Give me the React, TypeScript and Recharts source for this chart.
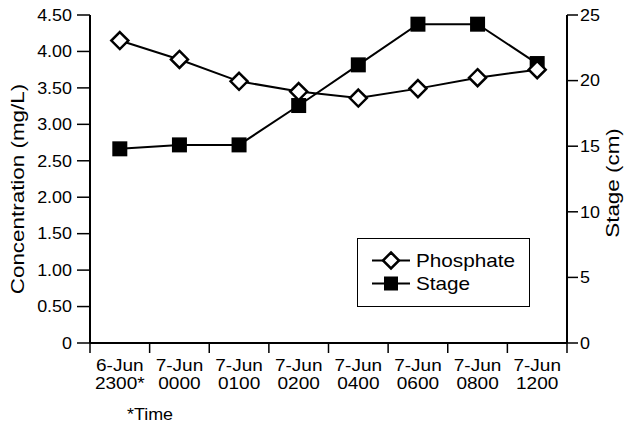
import React from 'react';
import { ComposedChart, Line, XAxis, YAxis, Legend } from 'recharts';

const FONT = '"Liberation Sans", Arial, Helvetica, sans-serif';
const SX = 1.12; // horizontal widening of the lettering

const dateLabels = ['6-Jun', '7-Jun', '7-Jun', '7-Jun', '7-Jun', '7-Jun', '7-Jun', '7-Jun'];
const timeLabels = ['2300*', '0000', '0100', '0200', '0400', '0600', '0800', '1200'];
const phosphate = [4.15, 3.89, 3.59, 3.45, 3.36, 3.49, 3.64, 3.75];
const stage = [14.8, 15.1, 15.1, 18.1, 21.2, 24.3, 24.3, 21.3];
const concTicks = [0, 0.5, 1, 1.5, 2, 2.5, 3, 3.5, 4, 4.5];
const stageTicks = [0, 5, 10, 15, 20, 25];

const data = dateLabels.map((d, i) => ({
  pos: i + 0.5,
  date: d,
  time: timeLabels[i],
  phosphate: phosphate[i],
  stage: stage[i],
}));

const xTicks = Array.from({ length: dateLabels.length * 2 + 1 }, (_, k) => k / 2);

const SText = ({ x, y, anchor = 'start', size = 16, dy = 0, children }: any) => (
  <text
    transform={`translate(${x},${y}) scale(${SX},1)`}
    x={0}
    y={0}
    dy={dy}
    textAnchor={anchor}
    fontSize={size}
    fontFamily={FONT}
    fill="#000"
  >
    {children}
  </text>
);

const XTick = (props: any) => {
  const { x, y, payload } = props;
  const v = payload.value;
  if (Number.isInteger(v)) {
    return <line x1={x} x2={x} y1={y} y2={y + 10} stroke="#000" strokeWidth={1.5} />;
  }
  const i = Math.floor(v);
  return (
    <g>
      <SText x={x} y={y + 28} anchor="middle" size={17}>{dateLabels[i]}</SText>
      <SText x={x} y={y + 46} anchor="middle" size={17}>{timeLabels[i]}</SText>
    </g>
  );
};

const LeftTick = (props: any) => {
  const { x, y, payload } = props;
  const v = payload.value;
  return (
    <SText x={x} y={y} anchor="end" size={16} dy="0.36em">
      {v === 0 ? '0' : Number(v).toFixed(2)}
    </SText>
  );
};

const RightTick = (props: any) => {
  const { x, y, payload } = props;
  return (
    <SText x={x} y={y} anchor="start" size={16} dy="0.36em">
      {String(payload.value)}
    </SText>
  );
};

const VTitle = ({ cx, cy, text }: any) => (
  <text
    transform={`translate(${cx},${cy}) rotate(-90) scale(1.18,1)`}
    x={0}
    y={0}
    textAnchor="middle"
    fontSize={19}
    fontFamily={FONT}
    fill="#000"
  >
    {text}
  </text>
);

const ConcTitle = (props: any) => {
  const vb = props.viewBox || {};
  return <VTitle cx={vb.x + 24} cy={vb.y + vb.height / 2 + 10} text="Concentration (mg/L)" />;
};

const StageTitle = (props: any) => {
  const vb = props.viewBox || {};
  return <VTitle cx={vb.x + vb.width - 10} cy={vb.y + vb.height / 2 + 4} text="Stage (cm)" />;
};

const TimeLabel = (props: any) => {
  const vb = props.viewBox || {};
  return <SText x={vb.x + 37} y={vb.y + 77} size={16}>*Time</SText>;
};

const Diamond = (props: any) => {
  const { cx, cy } = props;
  if (cx == null || cy == null) return <g />;
  const r = 8.5;
  return (
    <polygon
      points={`${cx},${cy - r} ${cx + r},${cy} ${cx},${cy + r} ${cx - r},${cy}`}
      fill="#fff"
      stroke="#000"
      strokeWidth={2.5}
    />
  );
};

const Square = (props: any) => {
  const { cx, cy } = props;
  if (cx == null || cy == null) return <g />;
  return <rect x={cx - 7.5} y={cy - 7.5} width={15} height={15} fill="#000" />;
};

const LegendIcon = ({ kind }: { kind: string }) => (
  <svg width={38} height={23} style={{ display: 'block', marginRight: 6, flex: 'none' }}>
    <line x1={0} x2={38} y1={11.5} y2={11.5} stroke="#000" strokeWidth={2} />
    {kind === 'phosphate' ? (
      <polygon points="19,3.5 27,11.5 19,19.5 11,11.5" fill="#fff" stroke="#000" strokeWidth={2.5} />
    ) : (
      <rect x={12} y={4.5} width={14} height={14} fill="#000" />
    )}
  </svg>
);

const renderLegend = (props: any) => {
  const order = ['phosphate', 'stage'];
  const items = [...(props.payload || [])].sort(
    (a: any, b: any) => order.indexOf(a.dataKey) - order.indexOf(b.dataKey)
  );
  return (
    <div
      style={{
        boxSizing: 'border-box',
        width: 173,
        height: 69,
        border: '1px solid #000',
        background: '#fff',
        paddingTop: 10,
        paddingLeft: 14,
        fontFamily: FONT,
        fontSize: 18.5,
        color: '#000',
      }}
    >
      {items.map((it: any) => (
        <div key={it.dataKey} style={{ display: 'flex', alignItems: 'center', height: 23 }}>
          <LegendIcon kind={it.dataKey} />
          <span style={{ display: 'inline-block', transform: `scaleX(${SX})`, transformOrigin: 'left center', whiteSpace: 'nowrap' }}>
            {it.value}
          </span>
        </div>
      ))}
    </div>
  );
};

export default function App() {
  return (
    <div style={{ position: 'absolute', left: 0, top: 0 }}>
      <ComposedChart width={629} height={427} data={data} margin={{ top: 15, right: 0, bottom: 0, left: 0 }}>
        <XAxis
          dataKey="pos"
          type="number"
          domain={[0, dateLabels.length]}
          ticks={xTicks}
          interval={0}
          height={84}
          tickSize={0}
          tickMargin={0}
          tickLine={false}
          axisLine={{ stroke: '#000', strokeWidth: 2 }}
          tick={<XTick />}
          label={<TimeLabel />}
        />
        <YAxis
          yAxisId="conc"
          domain={[0, 4.5]}
          ticks={concTicks}
          interval={0}
          width={90}
          tickSize={13}
          tickMargin={5}
          axisLine={{ stroke: '#000', strokeWidth: 2 }}
          tickLine={{ stroke: '#000', strokeWidth: 1.5 }}
          tick={<LeftTick />}
          label={<ConcTitle />}
        />
        <YAxis
          yAxisId="stage"
          orientation="right"
          domain={[0, 25]}
          ticks={stageTicks}
          interval={0}
          width={62}
          tickSize={11}
          tickMargin={2}
          axisLine={{ stroke: '#000', strokeWidth: 2 }}
          tickLine={{ stroke: '#000', strokeWidth: 1.5 }}
          tick={<RightTick />}
          label={<StageTitle />}
        />
        <Legend
          layout="horizontal"
          verticalAlign="middle"
          align="center"
          content={renderLegend}
          wrapperStyle={{ position: 'absolute', left: 357, top: 238, width: 173, height: 69 }}
        />
        <Line
          yAxisId="stage"
          dataKey="stage"
          name="Stage"
          type="linear"
          stroke="#000"
          strokeWidth={2}
          dot={<Square />}
          activeDot={false}
          isAnimationActive={false}
        />
        <Line
          yAxisId="conc"
          dataKey="phosphate"
          name="Phosphate"
          type="linear"
          stroke="#000"
          strokeWidth={2}
          dot={<Diamond />}
          activeDot={false}
          isAnimationActive={false}
        />
      </ComposedChart>
    </div>
  );
}
